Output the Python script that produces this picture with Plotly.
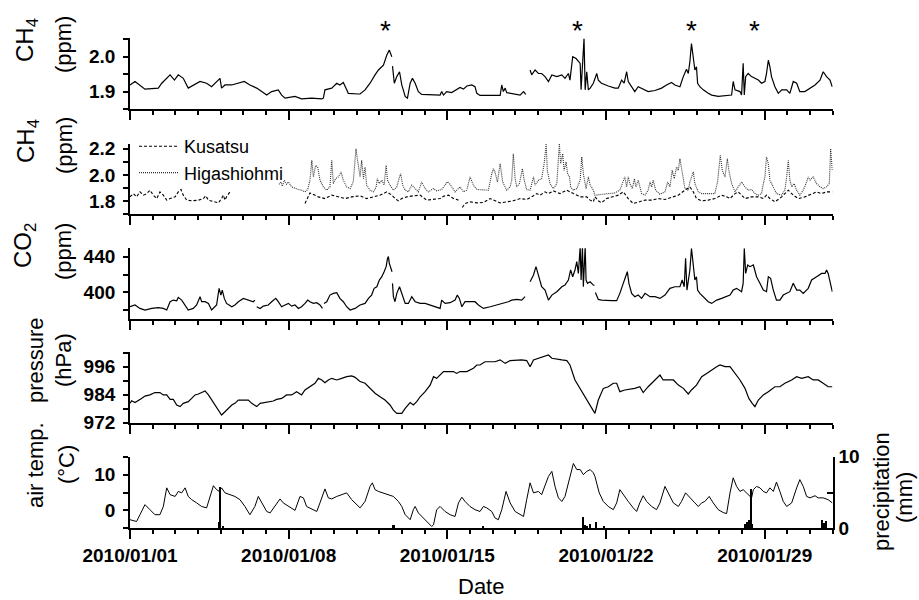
import pandas as pd
import plotly.graph_objects as go

BASE = pd.Timestamp("2010-01-01")
FONT = "Liberation Sans, Arial, sans-serif"

# ---------------- data (day offset from 2010-01-01 00:00, value) ----------------
# CH4 (top panel, ppm); None marks a data gap
ch4_day = [0.0, 0.22, 0.66, 1.25, 1.4, 1.77, 1.96, 2.13, 2.35, 2.57, 3.09, 3.38, 3.6, 3.97, 4.04, 4.19,
           4.49, 4.78, 5.04, 5.29, 5.59, 5.81, 6.03, 6.25, 6.54, 6.69, 6.84, 7.28, 7.57, 8.01, 8.46, 8.53,
           8.6, 8.9, 9.12, 9.26, 9.41, 9.56, 9.63, 10.07, 10.15, 10.37, 10.59, 10.81, 10.96, 11.18, 11.33,
           11.44, 11.55, 11.565, 11.58, 11.66, 11.77, 11.89, 11.99, 12.14, 12.24, 12.36, 12.46, 12.58, 12.72,
           12.87, 13.68, 13.75, 13.83, 13.97, 14.19, 14.41, 14.56, 14.71, 14.86, 15.08, 15.22, 15.3, 15.44,
           16.33, 16.4, 16.47, 16.55, 16.62, 16.91, 17.21, 17.36, 17.46, 17.55, 17.65, 17.72, 17.87, 18.02,
           18.16, 18.31, 18.46, 18.61, 18.83, 19.05, 19.19, 19.34, 19.41, 19.53, 19.68, 19.78, 19.86, 19.9,
           19.96, 20.03, 20.08, 20.15, 20.22, 20.3, 20.44, 20.59, 20.66, 20.8, 21.1, 21.39, 21.54, 21.69,
           21.8, 21.91, 21.98, 22.13, 22.27, 22.42, 22.57, 22.72, 22.86, 23.16, 23.45, 23.67, 23.89, 24.04,
           24.26, 24.41, 24.55, 24.63, 24.7, 24.77, 24.85, 24.92, 24.99, 25.04, 25.14, 25.29, 25.51, 25.66,
           25.95, 26.25, 26.54, 26.61, 26.69, 26.91, 26.98, 27.05, 27.1, 27.16, 27.27, 27.42, 27.57, 27.72,
           27.86, 28.01, 28.08, 28.16, 28.23, 28.3, 28.45, 28.6, 28.75, 28.97, 29.11, 29.26, 29.41, 29.55,
           29.77, 30.0, 30.22, 30.44, 30.58, 30.73, 30.88, 30.98]
ch4_val = [1.919, 1.929, 1.907, 1.910, 1.924, 1.948, 1.933, 1.948, 1.938, 1.910, 1.929, 1.924, 1.914, 1.938, 1.910, 1.919,
           1.919, 1.924, 1.929, 1.919, 1.910, 1.900, 1.890, 1.900, 1.905, 1.890, 1.881, 1.886, 1.879, 1.881, 1.879, 1.881,
           1.905, 1.910, 1.924, 1.919, 1.926, 1.905, 1.895, 1.893, 1.893, 1.905, 1.924, 1.948, 1.962, 1.976, 2.005,
           2.019, 2.000, None, 1.973, 1.924, 1.943, 1.957, 1.919, 1.886, 1.881, 1.924, 1.938, 1.924, 1.900,
           1.892, 1.890, 1.900, 1.890, 1.900, 1.897, 1.905, 1.912, 1.907, 1.916, 1.919, 1.914, 1.895, 1.889,
           1.889, 1.919, 1.900, 1.910, 1.897, 1.893, 1.890, 1.900, 1.892, None, 1.962, 1.948, 1.962, 1.952,
           1.952, 1.943, 1.929, 1.948, 1.943, 1.948, 1.938, 1.952, 1.933, 2.000, 1.995, 1.986, 1.981, 1.905,
           1.990, 2.052, 1.905, 1.957, 1.905, 1.910, 1.924, 1.952, 1.933, 1.924, 1.916, 1.910, 1.910, 1.933,
           1.924, 1.957, 1.929, 1.914, 1.900, 1.914, 1.910, 1.905, 1.900, 1.903, 1.910, 1.919, 1.926, 1.919,
           1.914, 1.943, 1.964, 1.952, 1.986, 2.038, 1.995, 1.962, 1.971, 1.924, 1.914, 1.905, 1.895, 1.890,
           1.886, 1.888, 1.890, 1.929, 1.905, 1.900, 1.890, 1.981, 1.890, 1.943, 1.952, 1.943, 1.938, 1.933,
           1.924, 1.929, 1.952, 1.990, 1.971, 1.943, 1.914, 1.895, 1.905, 1.905, 1.895, 1.929, 1.924, 1.900,
           1.900, 1.910, 1.919, 1.933, 1.957, 1.943, 1.933, 1.914]

# CH4 at Kusatsu (ppm)
kus_day = [0.0, 0.15, 0.29, 0.44, 0.59, 0.74, 0.88, 1.03, 1.18, 1.32, 1.47, 1.62, 1.77, 1.99, 2.13, 2.25, 2.35,
           2.5, 2.72, 3.02, 3.24, 3.34, 3.46, 3.68, 3.9, 4.04, 4.12, 4.19, 4.26, 4.41, 6.0,
           7.72, 7.94, 8.31, 8.6, 8.9, 9.19, 9.49, 9.78, 10.07, 10.15, 10.44, 10.74, 11.03, 11.33, 11.55,
           11.69, 11.84, 11.99, 12.21, 12.5, 12.8, 13.09, 13.39, 13.68, 13.83, 14.05, 14.27, 14.49, 14.57,
           14.66, 14.78, 15.0, 15.3, 15.59, 15.89, 16.11, 16.33, 16.62, 16.91, 17.21, 17.5, 17.72, 17.94,
           18.09, 18.31, 18.46, 18.68, 18.97, 19.27, 19.56, 19.86, 20.15, 20.3, 20.44, 20.51, 20.66, 20.8,
           21.02, 21.25, 21.54, 21.76, 21.98, 22.2, 22.42, 22.72, 23.01, 23.3, 23.6, 23.89, 24.19, 24.48,
           24.7, 24.85, 24.99, 25.22, 25.51, 25.8, 26.1, 26.32, 26.47, 26.69, 26.83, 26.98, 27.13, 27.42,
           27.72, 27.94, 28.08, 28.23, 28.45, 28.75, 28.89, 29.04, 29.26, 29.48, 29.77, 30.07, 30.29, 30.51,
           30.73, 30.98]
kus_val = [1.833, 1.858, 1.833, 1.871, 1.846, 1.858, 1.884, 1.846, 1.820, 1.871, 1.846, 1.808, 1.820, 1.833, 1.871, 1.889, 1.846,
           1.808, 1.803, 1.808, 1.820, 1.841, 1.808, 1.795, 1.787, 1.820, 1.846, 1.808, 1.833, 1.871, None,
           1.782, 1.863, 1.833, 1.820, 1.846, 1.833, 1.820, 1.833, 1.841, 1.841, 1.820, 1.833, 1.846, 1.871, 1.846,
           1.820, 1.803, 1.820, 1.833, 1.841, 1.846, 1.808, 1.813, 1.820, 1.838, 1.846, 1.820, 1.808, None,
           1.752, 1.782, 1.795, 1.787, 1.790, 1.820, 1.803, 1.787, 1.795, 1.803, 1.820, 1.813, 1.833, 1.858,
           1.846, 1.871, 1.858, 1.878, 1.858, 1.884, 1.858, 1.833, 1.833, 1.808, 1.795, 1.833, 1.803, 1.787,
           1.820, 1.833, 1.846, 1.871, 1.820, 1.782, 1.795, 1.808, 1.808, 1.820, 1.813, 1.828, 1.846, 1.884,
           1.909, 1.871, 1.820, 1.803, 1.808, 1.820, 1.846, 1.833, 1.820, 1.858, 1.871, 1.846, 1.820, 1.833,
           1.833, 1.820, 1.846, 1.820, 1.795, 1.833, 1.858, 1.884, 1.846, 1.820, 1.833, 1.858, 1.871, 1.858,
           1.871, 1.871]

# CH4 at Higashiohmi (ppm)
hig_day = [6.57, 6.66, 6.72, 6.81, 6.91, 6.99, 7.13, 7.28, 7.43, 7.57, 7.72, 7.84, 7.94, 8.02, 8.09, 8.19, 8.28,
           8.38, 8.53, 8.68, 8.82, 8.9, 8.97, 9.07, 9.19, 9.31, 9.41, 9.56, 9.71, 9.85, 9.93, 9.97, 10.04,
           10.15, 10.22, 10.3, 10.37, 10.44, 10.59, 10.74, 10.86, 10.91, 11.0, 11.11, 11.21, 11.3, 11.36,
           11.47, 11.62, 11.77, 11.89, 11.94, 12.03, 12.14, 12.28, 12.43, 12.58, 12.72, 12.87, 13.02, 13.16,
           13.39, 13.53, 13.75, 14.0, 14.15, 14.34, 14.56, 14.71, 14.86, 15.0, 15.15, 15.3, 15.59, 15.81,
           15.96, 16.03, 16.1, 16.21, 16.33, 16.44, 16.62, 16.77, 16.84, 16.91, 16.99, 17.06, 17.18, 17.31,
           17.39, 17.5, 17.65, 17.8, 17.87, 18.02, 18.16, 18.27, 18.36, 18.41, 18.53, 18.68, 18.83, 18.9,
           18.94, 19.0, 19.09, 19.15, 19.24, 19.3, 19.39, 19.44, 19.56, 19.71, 19.86, 19.93, 20.0, 20.12,
           20.22, 20.3, 20.44, 20.51, 20.8, 21.1, 21.39, 21.61, 21.76, 21.83, 21.91, 21.98, 22.05, 22.16,
           22.25, 22.32, 22.42, 22.57, 22.72, 22.86, 22.94, 23.01, 23.08, 23.19, 23.38, 23.6, 23.72, 23.82,
           23.92, 24.01, 24.11, 24.19, 24.26, 24.33, 24.41, 24.48, 24.63, 24.7, 24.77, 24.85, 24.92, 25.07,
           25.22, 25.51, 25.8, 25.92, 25.98, 26.04, 26.13, 26.25, 26.35, 26.42, 26.54, 26.69, 26.83, 26.98,
           27.13, 27.27, 27.42, 27.57, 27.72, 27.86, 27.94, 28.01, 28.08, 28.16, 28.23, 28.38, 28.52, 28.75,
           28.89, 28.97, 29.04, 29.11, 29.19, 29.3, 29.41, 29.55, 29.7, 29.85, 29.92, 30.0, 30.14, 30.29,
           30.44, 30.58, 30.73, 30.85, 30.91, 30.98]
hig_val = [1.929, 1.947, 1.914, 1.960, 1.929, 1.947, 1.909, 1.896, 1.889, 1.884, 1.871, 1.889, 1.960, 2.111, 1.985, 2.073, 2.061,
           1.960, 1.909, 1.884, 1.909, 2.111, 1.934, 1.972, 1.985, 2.023, 1.960, 1.909, 1.896, 1.947, 2.099, 2.200, 2.111,
           1.985, 2.111, 1.972, 2.061, 1.922, 1.884, 1.871, 1.909, 1.972, 1.934, 1.960, 1.922, 2.073, 1.960,
           1.922, 1.884, 1.909, 1.985, 2.010, 1.922, 1.884, 1.871, 1.922, 1.896, 1.871, 1.947, 1.896, 1.871,
           1.896, 1.878, 1.889, 1.947, 1.922, 1.871, 1.909, 1.871, 1.884, 1.985, 1.922, 1.889, 1.884, 1.884,
           2.010, 2.048, 2.023, 1.947, 2.086, 1.947, 1.884, 1.909, 1.960, 2.162, 1.972, 1.909, 1.934, 2.048,
           1.960, 1.889, 1.884, 1.985, 1.922, 1.960, 1.972, 2.086, 2.238, 2.035, 1.934, 1.896, 1.934, 2.137,
           2.238, 2.086, 2.162, 2.035, 2.099, 2.010, 1.985, 1.909, 1.884, 1.896, 1.960, 2.137, 2.010, 1.896,
           1.985, 1.922, 1.884, 1.846, 1.853, 1.858, 1.863, 1.884, 1.960, 1.985, 1.909, 1.985, 1.934, 1.896,
           1.972, 1.909, 1.960, 1.858, 1.846, 1.884, 1.947, 1.909, 1.960, 1.884, 1.853, 1.871, 1.947, 1.909,
           2.035, 1.972, 2.061, 2.035, 2.124, 2.035, 1.972, 1.896, 1.884, 1.947, 1.985, 2.023, 1.934, 1.871,
           1.858, 1.858, 1.858, 1.947, 2.086, 2.149, 2.035, 1.985, 2.124, 2.035, 1.934, 1.871, 1.909, 1.947,
           1.909, 1.884, 1.889, 1.858, 1.846, 1.858, 1.934, 1.985, 2.137, 2.086, 1.960, 1.909, 1.858, 1.846,
           1.884, 1.985, 2.111, 1.960, 1.909, 1.934, 1.884, 1.846, 1.884, 1.947, 1.985, 1.960, 1.985, 1.934,
           1.909, 1.896, 1.909, 1.934, 2.200, 2.035]

# CO2 (ppm)
co2_day = [0.0, 0.22, 0.44, 0.66, 0.96, 1.25, 1.47, 1.62, 1.77, 1.91, 2.06, 2.13, 2.28, 2.43, 2.57, 2.79, 2.94,
           3.09, 3.16, 3.31, 3.46, 3.6, 3.72, 3.82, 3.93, 4.01, 4.07, 4.16, 4.26, 4.49, 4.63, 4.78, 5.0, 5.22,
           5.44, 5.51, 5.55, 5.59, 5.74, 5.88, 6.1, 6.25, 6.43, 6.54, 6.69, 6.84, 6.99, 7.13, 7.28, 7.43, 7.57,
           7.72, 7.84, 7.94, 8.09, 8.24, 8.38, 8.49, 8.52, 8.56, 8.68, 8.82, 8.97, 9.12, 9.26, 9.41, 9.56, 9.71,
           9.93, 10.15, 10.37, 10.52, 10.66, 10.77, 10.89, 11.0, 11.11, 11.21, 11.3, 11.36, 11.4, 11.44, 11.5,
           11.56, 11.57, 11.58, 11.62, 11.69, 11.77, 11.89, 11.99, 12.14, 12.28, 12.43, 12.58, 12.8, 13.02,
           13.24, 13.46, 13.68, 13.75, 13.9, 14.12, 14.34, 14.44, 14.53, 14.64, 14.78, 15.0, 15.22, 15.37,
           15.59, 15.89, 16.18, 16.47, 16.69, 16.84, 17.06, 17.28, 17.43, 17.55, 17.65, 17.8, 17.91, 18.02,
           18.16, 18.31, 18.46, 18.61, 18.83, 19.05, 19.19, 19.34, 19.44, 19.53, 19.63, 19.71, 19.78, 19.86,
           19.9, 19.96, 20.0, 20.08, 20.12, 20.18, 20.3, 20.44, 20.49, 20.51, 20.53, 20.66, 20.8, 21.02, 21.25,
           21.47, 21.61, 21.76, 21.86, 21.94, 22.01, 22.13, 22.27, 22.42, 22.57, 22.72, 22.94, 23.16, 23.38,
           23.6, 23.82, 24.04, 24.26, 24.36, 24.45, 24.51, 24.57, 24.63, 24.7, 24.77, 24.85, 24.92, 24.99,
           25.04, 25.14, 25.29, 25.51, 25.66, 25.88, 26.1, 26.32, 26.47, 26.61, 26.76, 26.98, 27.05, 27.1,
           27.16, 27.25, 27.35, 27.5, 27.64, 27.79, 27.94, 28.08, 28.16, 28.26, 28.38, 28.52, 28.67, 28.82,
           28.97, 29.11, 29.26, 29.41, 29.55, 29.7, 29.92, 30.07, 30.29, 30.51, 30.66, 30.73, 30.8, 30.88,
           30.98]
co2_val = [384.1, 386.0, 382.2, 380.4, 382.2, 383.0, 382.2, 380.4, 389.7, 391.5, 390.8, 394.5, 391.5, 386.0, 380.4, 382.2, 386.0,
           395.3, 389.7, 389.7, 387.8, 380.4, 384.1, 386.0, 404.6, 397.1, 402.7, 393.4, 387.8, 384.1, 386.0, 389.7, 393.4, 391.5,
           389.7, 391.5, None, 384.1, 382.2, 384.8, 386.0, 389.7, 393.4, 389.7, 384.1, 386.0, 387.8, 384.8, 386.0, 382.2, 384.1,
           387.8, 391.5, 389.7, 387.8, 388.6, 386.0, 382.2, None, 387.8, 389.7, 397.1, 399.0, 399.7, 393.4, 389.7, 384.1, 380.4,
           382.2, 386.0, 387.8, 393.4, 397.1, 404.6, 406.4, 413.9, 417.6, 423.2, 428.8, 438.1, 440.0, 432.5, 428.8,
           423.2, None, 410.2, 395.3, 389.7, 399.0, 406.4, 399.0, 387.8, 387.8, 395.3, 389.7, 387.8, 387.8,
           386.0, 384.8, 382.2, 391.5, 387.8, 388.6, 391.5, 397.1, 393.4, 384.1, 389.7, 389.7, 389.7, 386.0,
           382.2, 384.1, 386.0, 387.8, 389.7, 391.5, 392.3, 391.5, 395.3, None, 412.0, 419.5, 428.8, 417.6,
           406.4, 402.7, 391.5, 397.1, 400.9, 406.4, 408.3, 413.9, 425.1, 417.6, 425.1, 434.4, 421.3, 451.1,
           413.9, 451.1, 406.4, 451.1, 413.9, 410.2, 412.0, 408.3, 408.0, None, 400.0, 392.3, 391.5, 390.8, 390.8,
           390.8, 399.0, 410.2, 417.6, 423.2, 410.2, 399.0, 395.3, 397.1, 393.4, 399.0, 395.3, 395.3, 393.4,
           397.1, 404.6, 406.4, 406.4, 413.9, 406.4, 438.1, 402.7, 415.8, 425.1, 449.3, 428.8, 413.9, 417.6,
           402.7, 399.0, 395.3, 389.7, 387.8, 391.5, 393.4, 395.3, 397.1, 402.7, 404.6, 400.9, 410.2, 449.3,
           421.3, 430.7, 428.8, 430.7, 417.6, 410.2, 402.7, 400.9, 417.6, 415.8, 402.7, 391.5, 391.5, 397.1,
           399.0, 400.9, 410.2, 402.7, 402.7, 399.0, 404.6, 413.9, 417.6, 421.3, 421.3, 425.1, 421.3, 410.2,
           400.9]

# Atmospheric pressure (hPa)
pres_day = [0.0, 0.07, 0.22, 0.37, 0.51, 0.66, 0.88, 1.1, 1.32, 1.47, 1.62, 1.77, 1.91, 2.06, 2.21, 2.35, 2.57,
            2.72, 2.87, 3.02, 3.16, 3.31, 3.46, 3.6, 3.75, 3.9, 4.04, 4.19, 4.34, 4.49, 4.63, 4.78, 5.0, 5.22,
            5.37, 5.59, 5.74, 5.96, 6.18, 6.32, 6.47, 6.69, 6.91, 7.13, 7.35, 7.57, 7.72, 7.94, 8.16, 8.31,
            8.46, 8.6, 8.75, 8.9, 9.12, 9.34, 9.56, 9.78, 9.93, 10.07, 10.15, 10.37, 10.59, 10.81, 11.03, 11.25,
            11.47, 11.62, 11.77, 11.99, 12.14, 12.36, 12.5, 12.65, 12.8, 13.02, 13.24, 13.39, 13.53, 13.68,
            13.83, 14.05, 14.27, 14.41, 14.56, 14.86, 15.15, 15.3, 15.44, 15.66, 15.89, 16.1, 16.33, 16.55,
            16.77, 17.06, 17.28, 17.5, 17.65, 17.8, 18.02, 18.24, 18.46, 18.61, 18.83, 19.05, 19.27, 19.41,
            19.63, 19.86, 20.15, 20.37, 20.51, 20.66, 20.88, 21.1, 21.32, 21.47, 21.61, 21.83, 22.05, 22.27,
            22.49, 22.64, 22.86, 23.08, 23.38, 23.52, 23.74, 23.97, 24.19, 24.41, 24.63, 24.77, 24.99, 25.22,
            25.44, 25.66, 25.88, 26.03, 26.25, 26.47, 26.69, 26.91, 27.13, 27.3, 27.45, 27.57, 27.72, 27.94,
            28.16, 28.45, 28.67, 28.89, 29.19, 29.41, 29.63, 29.92, 30.14, 30.36, 30.58, 30.8, 30.98]
pres_val = [980.3, 981.4, 980.6, 981.7, 982.4, 983.4, 983.9, 984.9, 984.9, 983.9, 983.9, 982.0, 982.0, 979.6, 978.9, 980.3, 981.0,
            982.4, 983.9, 984.3, 984.9, 985.6, 983.9, 981.7, 979.9, 977.4, 975.3, 976.7, 978.1, 979.6, 980.3, 981.7, 981.7, 981.7,
            980.3, 978.9, 980.3, 980.6, 981.0, 981.3, 982.0, 982.4, 983.9, 983.9, 985.3, 983.9, 986.0, 987.4, 988.9, 991.0,
            990.3, 989.1, 990.3, 991.0, 990.3, 991.0, 991.7, 992.0, 991.4, 990.3, 989.6, 988.9, 986.7, 984.6, 983.1, 981.7,
            979.6, 977.4, 976.0, 976.0, 978.1, 980.6, 979.6, 981.0, 983.1, 985.3, 988.1, 991.7, 991.0, 992.4,
            993.9, 993.9, 993.9, 993.1, 993.9, 993.9, 995.3, 996.7, 996.7, 998.1, 998.1, 998.1, 998.9, 997.4,
            998.6, 998.9, 998.9, 998.6, 996.0, 998.9, 999.6, 1000.3, 1001.0, 999.6, 999.1, 998.9, 998.6, 996.7,
            990.3, 986.7, 981.7, 978.1, 976.0, 981.7, 986.7, 987.4, 988.9, 988.9, 985.3, 986.0, 986.3, 986.7,
            987.4, 984.9, 987.4, 989.6, 992.4, 990.3, 990.3, 990.3, 988.1, 986.7, 984.3, 986.0, 988.1, 991.7,
            993.1, 994.6, 996.0, 996.7, 996.0, 996.0, 993.1, 990.3, 986.7, 982.4, 980.3, 978.9, 981.7, 983.9,
            985.3, 987.4, 987.4, 988.9, 990.3, 991.7, 991.0, 991.7, 990.3, 990.3, 988.9, 987.4, 987.4]

# Air temperature (degC)
temp_day = [0.0, 0.29, 0.44, 0.66, 0.88, 1.1, 1.32, 1.47, 1.62, 1.77, 1.99, 2.13, 2.28, 2.43, 2.57, 2.72, 2.94,
            3.16, 3.38, 3.53, 3.68, 3.82, 3.94, 4.04, 4.19, 4.41, 4.63, 4.85, 5.07, 5.29, 5.51, 5.66, 5.81, 6.03,
            6.18, 6.4, 6.62, 6.76, 6.99, 7.13, 7.28, 7.5, 7.65, 7.79, 7.94, 8.09, 8.24, 8.38, 8.6, 8.75, 8.9,
            9.12, 9.34, 9.56, 9.78, 9.93, 10.07, 10.15, 10.37, 10.59, 10.69, 10.81, 10.96, 11.18, 11.4, 11.62,
            11.84, 11.99, 12.14, 12.36, 12.5, 12.58, 12.72, 12.94, 13.16, 13.31, 13.39, 13.53, 13.68, 13.9,
            14.12, 14.34, 14.49, 14.64, 14.78, 15.0, 15.22, 15.44, 15.59, 15.74, 15.96, 16.1, 16.25, 16.4,
            16.59, 16.77, 16.99, 17.21, 17.36, 17.5, 17.65, 17.8, 18.02, 18.16, 18.31, 18.46, 18.61, 18.75,
            18.9, 19.05, 19.19, 19.39, 19.56, 19.71, 19.86, 20.0, 20.15, 20.3, 20.44, 20.51, 20.7, 20.88,
            21.1, 21.32, 21.47, 21.61, 21.76, 21.98, 22.2, 22.35, 22.49, 22.64, 22.79, 23.01, 23.23, 23.38,
            23.6, 23.74, 23.97, 24.19, 24.33, 24.51, 24.7, 24.92, 25.07, 25.22, 25.36, 25.55, 25.73, 25.95,
            26.17, 26.32, 26.47, 26.61, 26.76, 26.91, 27.05, 27.2, 27.35, 27.42, 27.5, 27.64, 27.79, 27.94,
            28.08, 28.23, 28.38, 28.52, 28.67, 28.82, 28.97, 29.19, 29.41, 29.55, 29.7, 29.85, 30.0, 30.22,
            30.36, 30.58, 30.8, 30.98]
temp_val = [-2.6, -3.1, -1.2, 1.6, 0.2, -1.2, -1.2, 1.1, 6.3, 4.4, 3.9, 5.3, 4.9, 6.3, 3.9, 3.0, 2.1,
            1.1, 0.7, 3.9, 6.9, 5.8, 5.3, 6.3, 4.9, 4.4, 3.9, 3.0, 1.1, -1.2, 1.1, 3.9, 2.1, -0.3,
            -0.7, 1.1, 3.2, 2.1, 1.1, 0.4, 0.0, 3.9, 3.5, 1.1, 0.7, 0.2, -0.3, 2.1, 6.0, 3.5, 3.2,
            3.9, 4.4, 4.9, 3.0, 2.1, 1.1, 0.7, 2.5, 6.7, 7.7, 5.8, 5.3, 4.9, 4.4, 3.9,
            2.5, 1.1, -1.2, -2.6, 0.2, 1.1, -0.7, -2.1, -3.6, -4.5, -4.0, 0.2, 1.1, -0.3,
            -1.2, -1.7, 2.1, 3.7, 2.5, 1.1, 0.2, -0.3, 1.1, 0.7, -0.3, -2.1, -2.6, 0.2,
            5.3, 2.1, -0.3, -1.2, -1.7, 3.0, 7.7, 4.9, 5.3, 4.4, 7.2, 9.5, 10.9, 6.7,
            3.5, 2.5, 3.9, 8.6, 13.1, 11.4, 11.4, 10.0, 10.9, 11.4, 10.5, 9.5, 4.9, 2.5,
            1.1, 0.2, 2.1, 5.8, 4.4, 2.5, 0.7, -0.3, 2.1, 4.1, 2.5, 1.1, 0.2, 2.1,
            6.7, 4.9, 2.1, 1.1, 2.5, 4.9, 3.5, 2.1, 1.1, 2.1, 2.5, 3.9, 2.1, 0.2,
            -0.6, -0.9, 4.9, 9.1, 6.7, 5.3, 5.8, 4.9, 3.9, 3.5, 5.8, 6.7, 6.3, 5.3,
            4.9, 6.3, 5.3, 7.9, 5.3, 2.5, 1.1, 2.1, 6.3, 8.6, 6.7, 3.9, 3.5, 4.1,
            3.5, 3.5, 3.0, 2.1]

# Precipitation (mm)
prec_day = [3.95, 4.0, 4.12, 11.6, 11.66, 15.58, 20.0, 20.07, 20.17, 20.29, 20.59, 20.91,
            27.15, 27.22, 27.3, 27.39, 27.46, 30.55, 30.62, 30.7]
prec_val = [0.9, 5.8, 0.4, 0.5, 0.5, 0.4, 1.6, 0.5, 0.3, 0.7, 0.9, 0.3,
            0.7, 0.9, 1.2, 5.6, 0.7, 1.2, 0.8, 1.0]

# event markers (*) on the top panel
star_day = [11.29, 19.72, 24.79, 27.57]


def to_dates(days):
    return [BASE + pd.Timedelta(days=d) for d in days]


W, H = 919, 600
X0, X1 = 130.0, 832.7
panels_px = [(38.3, 109.0), (144.0, 214.3), (248.3, 319.0), (351.7, 422.7), (456.7, 528.3)]


def ydom(top, bot):
    return [1 - bot / H, 1 - top / H]


fig = go.Figure()
line = dict(color="black", width=1.2)
fig.add_trace(go.Scatter(x=to_dates(ch4_day), y=ch4_val, mode="lines", line=line,
                         xaxis="x", yaxis="y", showlegend=False))
fig.add_trace(go.Scatter(x=to_dates(kus_day), y=kus_val, mode="lines", name="Kusatsu",
                         line=dict(color="black", width=1.1, dash="3px,2px"),
                         xaxis="x2", yaxis="y2", showlegend=True))
fig.add_trace(go.Scatter(x=to_dates(hig_day), y=hig_val, mode="lines", name="Higashiohmi",
                         line=dict(color="#333333", width=1.1, dash="1px,1px"),
                         xaxis="x2", yaxis="y2", showlegend=True))
fig.add_trace(go.Scatter(x=to_dates(co2_day), y=co2_val, mode="lines", line=line,
                         xaxis="x3", yaxis="y3", showlegend=False))
fig.add_trace(go.Scatter(x=to_dates(pres_day), y=pres_val, mode="lines", line=line,
                         xaxis="x4", yaxis="y4", showlegend=False))
fig.add_trace(go.Scatter(x=to_dates(temp_day), y=temp_val, mode="lines", line=dict(color="black", width=1.0),
                         xaxis="x5", yaxis="y5", showlegend=False))
fig.add_trace(go.Bar(x=to_dates(prec_day), y=prec_val, width=1.6 * 3600000,
                     marker=dict(color="black", line=dict(width=0)),
                     xaxis="x5", yaxis="y6", showlegend=False))

tickfont = dict(family=FONT, size=19, color="black", weight="bold")

xcommon = dict(type="date", range=[BASE, BASE + pd.Timedelta(days=31)], automargin=False,
               domain=[X0 / W, X1 / W], showline=True, linecolor="black", linewidth=2,
               ticks="outside", ticklen=9, tickwidth=1.8, tickcolor="black",
               tick0="2010-01-01", dtick=7 * 86400000, tickformat="%Y/%m/%d",
               minor=dict(dtick=86400000, tick0="2010-01-01", ticks="outside", ticklen=4,
                          tickwidth=1.5, tickcolor="black", showgrid=False),
               showgrid=False, zeroline=False, tickfont=tickfont)

yspecs = [
    ([1.85, 2.053], 0.1, 0.0, 0.05, ".1f"),
    ([1.70, 2.236], 0.2, 1.8, 0.1, ".1f"),
    ([370.4, 449.3], 40, 0, 20, "d"),
    ([972, 1002.4], 12, 972, 6, "d"),
    ([-5, 15], 10, 0, 5, "d"),
]

layout = dict(width=W, height=H, margin=dict(l=0, r=0, t=0, b=0, autoexpand=False),
              paper_bgcolor="white", plot_bgcolor="white", bargap=0,
              font=dict(family=FONT, color="black"),
              legend=dict(x=134 / W, y=1 - 128 / H, xanchor="left", yanchor="top",
                          bgcolor="rgba(0,0,0,0)", font=dict(family=FONT, size=18, color="black"),
                          tracegroupgap=0, itemwidth=40))

for i, ((top, bot), (rng, dt, t0, mdt, fmt)) in enumerate(zip(panels_px, yspecs), start=1):
    sx = "" if i == 1 else str(i)
    xa = dict(xcommon)
    xa["anchor"] = "y" + sx
    xa["showticklabels"] = (i == 5)
    if i > 1:
        xa["matches"] = "x"
    layout["xaxis" + sx] = xa
    layout["yaxis" + sx] = dict(domain=ydom(top, bot), range=rng, anchor="x" + sx, automargin=False,
                                showline=True, linecolor="black", linewidth=1.8,
                                ticks="outside", ticklen=5, tickwidth=1.5, tickcolor="black",
                                tick0=t0, dtick=dt, tickformat=fmt, tickfont=tickfont,
                                minor=dict(dtick=mdt, tick0=t0, ticks="outside", ticklen=5,
                                           tickwidth=1.5, tickcolor="black", showgrid=False),
                                showgrid=False, zeroline=False, ticklabelstandoff=4)

layout["yaxis6"] = dict(overlaying="y5", side="right", anchor="x5", range=[0, 10], automargin=False,
                        showline=True, linecolor="black", linewidth=1.8,
                        ticks="inside", ticklen=6, tickwidth=1.5, tickcolor="black",
                        tick0=0, dtick=10, tickfont=tickfont,
                        minor=dict(dtick=5, tick0=0, ticks="inside", ticklen=6,
                                   tickwidth=1.5, tickcolor="black", showgrid=False),
                        showgrid=False, zeroline=False)

fig.update_layout(**layout)

ann = []
tfont = dict(family=FONT, size=22, color="black")


def title(text, px, py, size=22):
    ann.append(dict(text=text, x=px / W, y=1 - py / H, xref="paper", yref="paper",
                    textangle=-90, showarrow=False, xanchor="center", yanchor="middle",
                    font=dict(family=FONT, size=size, color="black")))


title("CH<sub>4</sub>", 27, 40, 24)
title("(ppm)", 64, 45)
title("CH<sub>4</sub>", 27, 141, 24)
title("(ppm)", 64, 146)
title("CO<sub>2</sub>", 25, 246, 24)
title("(ppm)", 64, 252)
title("pressure", 35, 360)
title("(hPa)", 63, 360)
title("air temp.", 35, 465)
title("(°C)", 66, 465)
title("precipitation", 882, 492)
title("(mm)", 904, 498)

ann.append(dict(text="Date", x=(X0 + X1) / 2 / W, y=1 - 586 / H, xref="paper", yref="paper",
                showarrow=False, xanchor="center", yanchor="middle", font=tfont))

for d in star_day:
    ann.append(dict(text="*", x=BASE + pd.Timedelta(days=d), y=1 - 30 / H, xref="x", yref="paper",
                    showarrow=False, xanchor="center", yanchor="middle",
                    font=dict(family=FONT, size=28, color="black")))

fig.update_layout(annotations=ann)
fig.write_html("out.html")
